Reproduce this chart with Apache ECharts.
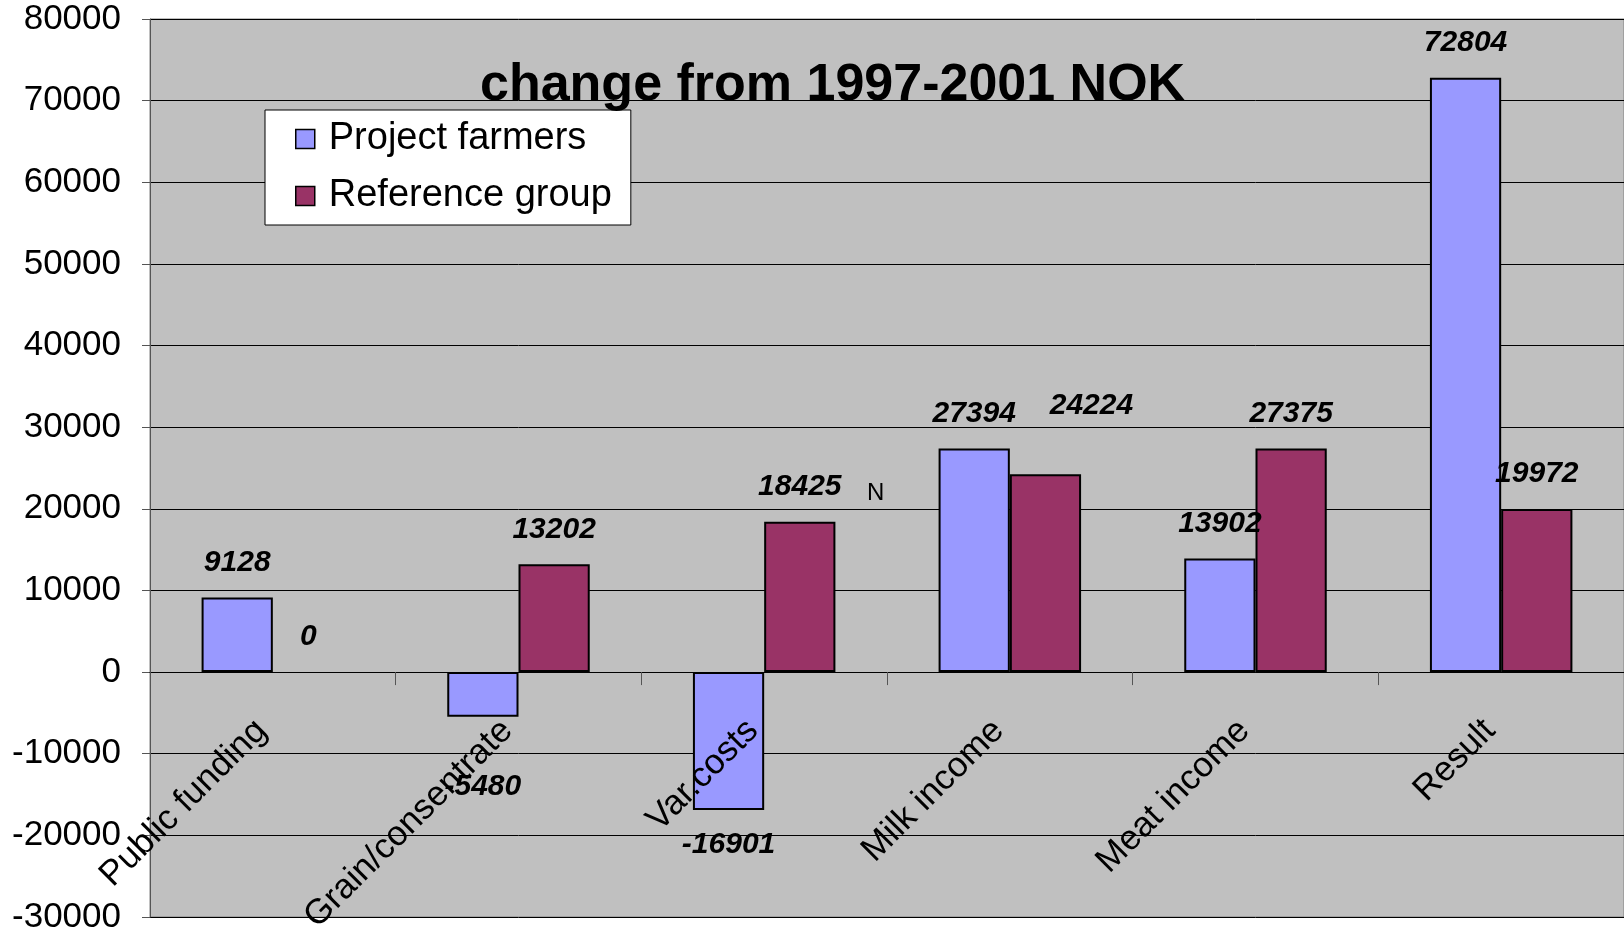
<!DOCTYPE html>
<html>
<head>
<meta charset="utf-8">
<script src="https://cdn.jsdelivr.net/npm/echarts@6/dist/echarts.min.js"></script>
<style>
html,body{margin:0;padding:0;background:#fff;}
#c{width:1624px;height:935px;}
</style>
</head>
<body>
<div id="c"></div>
<script>
const categories = ['Public funding', 'Grain/consentrate', 'Var.costs', 'Milk income', 'Meat income', 'Result'];
const projectFarmers = [9128, -5480, -16901, 27394, 13902, 72804];
const referenceGroup = [0, 13202, 18425, 24224, 27375, 19972];
const seriesNames = ['Project farmers', 'Reference group'];
const titleText = 'change from 1997-2001 NOK';
const yMin = -30000, yMax = 80000, yStep = 10000;

const FONT = 'Liberation Sans, Arial, sans-serif';
const W = 1624, H = 935;
const gridTop = 19, gridBottom = 18;
const gridH = H - gridTop - gridBottom;
// move the category axis up to the zero line
const xOffset = -gridH * (0 - yMin) / (yMax - yMin);

const labelBase = {
  show: true, fontFamily: FONT, fontSize: 30, fontWeight: 'bold', fontStyle: 'italic',
  color: '#000', distance: 20
};
// label nudges copied from the original's placement
const projectLabelOffsets = [[0,0],[0,35],[0,0],[0,0],[0,0],[0,0]];
const referenceLabelOffsets = [[0,0],[0,0],[0,0],[46,-34],[0,0],[0,0]];

function toData(vals, offs) {
  return vals.map((v, i) => ({
    value: v,
    label: { position: v < 0 ? 'bottom' : 'top', offset: offs[i] },
    itemStyle: v === 0 ? { borderWidth: 0 } : undefined
  }));
}

const chart = echarts.init(document.getElementById('c'));
chart.setOption({
  animation: false,
  backgroundColor: '#fff',
  textStyle: { fontFamily: FONT },
  title: {
    text: titleText, left: 480, top: 60, padding: 0,
    textStyle: { fontFamily: FONT, fontSize: 52, fontWeight: 'bold', color: '#000' }
  },
  legend: {
    orient: 'vertical', left: 265, top: 110,
    backgroundColor: '#fff', borderColor: '#000', borderWidth: 1,
    padding: [10, 19, 10, 30], itemGap: 19,
    icon: 'rect', itemWidth: 19, itemHeight: 19,
    itemStyle: { borderColor: '#000', borderWidth: 1.5 },
    textStyle: { fontFamily: FONT, fontSize: 38, color: '#000', padding: [0, 0, 0, 9] },
    data: seriesNames
  },
  grid: {
    left: 150, right: 0, top: gridTop, bottom: gridBottom, containLabel: false,
    outerBoundsMode: 'none',
    show: true, backgroundColor: '#C0C0C0', borderColor: '#808080', borderWidth: 1
  },
  xAxis: {
    type: 'category', data: categories, z: 10,
    position: 'bottom', offset: xOffset,
    axisLine: { onZero: false, lineStyle: { color: '#000', width: 1 } },
    axisTick: { show: true, length: 13, lineStyle: { color: '#555' } },
    axisLabel: {
      rotate: 45, margin: 42, fontFamily: FONT, fontSize: 35, color: '#000',
      padding: [0, 16, 0, 0]
    },
    splitLine: { show: false }
  },
  yAxis: {
    type: 'value', min: yMin, max: yMax, interval: yStep,
    axisLine: { show: true, lineStyle: { color: '#555' } },
    axisTick: { show: true, length: 8, lineStyle: { color: '#555' } },
    axisLabel: { margin: 29, fontFamily: FONT, fontSize: 35, color: '#000', formatter: v => String(v) },
    splitLine: { show: true, lineStyle: { color: '#000', width: 1 } }
  },
  series: [
    {
      name: seriesNames[0], type: 'bar', barGap: '0%', barCategoryGap: '42%',
      itemStyle: { color: '#9999FF', borderColor: '#000', borderWidth: 2 },
      label: labelBase,
      data: toData(projectFarmers, projectLabelOffsets)
    },
    {
      name: seriesNames[1], type: 'bar', barGap: '0%', barCategoryGap: '42%',
      itemStyle: { color: '#993366', borderColor: '#000', borderWidth: 2 },
      label: labelBase,
      data: toData(referenceGroup, referenceLabelOffsets)
    }
  ],
  graphic: [
    { type: 'text', left: 867, top: 481, style: { text: 'N', font: '24px ' + FONT, fill: '#000' } }
  ]
});
</script>
</body>
</html>
